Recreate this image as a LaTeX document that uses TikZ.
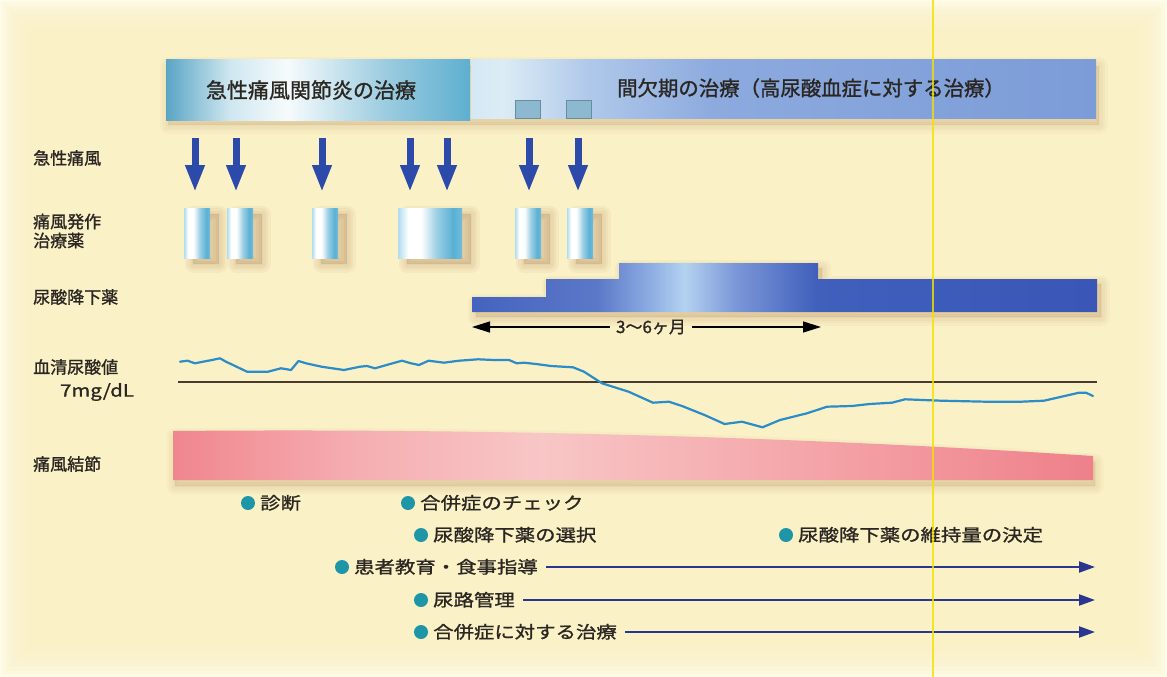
\documentclass[tikz,border=0pt]{standalone}
\usepackage{fontspec}
\newfontfamily\jp[FakeBold=1.2]{Noto Sans CJK JP}
\newfontfamily\jpw[FakeStretch=1.2,FakeBold=1.2]{Noto Sans CJK JP}
\usetikzlibrary{arrows.meta}
\definecolor{bgout}{HTML}{FEFBE9}
\definecolor{bgin}{HTML}{FBF1C4}
\definecolor{txt}{HTML}{2A2622}
\definecolor{shadowcol}{HTML}{A8784A}
\definecolor{arrb}{HTML}{2C4AAA}
\definecolor{arrd}{HTML}{2A3590}
\definecolor{teal1}{HTML}{1E96A8}
\definecolor{sqfill}{HTML}{8CB8D0}
\definecolor{sqdraw}{HTML}{6C8C9C}
\definecolor{ualine}{HTML}{2A8CC8}
\definecolor{thr}{HTML}{4A3A30}
\definecolor{yline}{HTML}{F5E000}
% acute bar
\definecolor{acA}{HTML}{5AA5C5}
\definecolor{acB}{HTML}{CFE7F0}
\definecolor{acC}{HTML}{F6FBFC}
\definecolor{acD}{HTML}{9CCCE0}
\definecolor{acE}{HTML}{5EAFD0}
% interval bar
\definecolor{inA}{HTML}{D4E8F4}
\definecolor{inB}{HTML}{DCECF6}
\definecolor{inC}{HTML}{AFC8EA}
\definecolor{inD}{HTML}{8CAADE}
\definecolor{inE}{HTML}{7C9CD8}
% capsule
\definecolor{cpA}{HTML}{B0DCEC}
\definecolor{cpB}{HTML}{FFFFFF}
\definecolor{cpC}{HTML}{9ED0E4}
\definecolor{cpD}{HTML}{5AB0D4}
\definecolor{cpE}{HTML}{70BCDC}
% uric drug
\definecolor{udA}{HTML}{4563BE}
\definecolor{udB}{HTML}{5B78C8}
\definecolor{udC}{HTML}{90B0E4}
\definecolor{udD}{HTML}{B4D2F0}
\definecolor{udE}{HTML}{7C98D8}
\definecolor{udF}{HTML}{4060BC}
\definecolor{udG}{HTML}{3A56B6}
% tophus
\definecolor{tpA}{HTML}{F0868E}
\definecolor{tpB}{HTML}{F5AEB2}
\definecolor{tpC}{HTML}{F8C6C6}
\definecolor{tpD}{HTML}{F4A4A8}
\definecolor{tpE}{HTML}{EE808A}
\pgfdeclarehorizontalshading{acshade}{100bp}{color(0bp)=(acA); color(25bp)=(acA); color(35.5bp)=(acB); color(45bp)=(acC); color(61bp)=(acD); color(75bp)=(acE); color(100bp)=(acE)}
\pgfdeclarehorizontalshading{inshade}{100bp}{color(0bp)=(inA); color(25bp)=(inA); color(27.5bp)=(inB); color(34.5bp)=(inC); color(44.5bp)=(inD); color(75bp)=(inE); color(100bp)=(inE)}
\pgfdeclarehorizontalshading{capshade}{100bp}{color(0bp)=(cpA); color(25bp)=(cpA); color(33bp)=(cpB); color(43bp)=(cpB); color(55bp)=(cpC); color(68bp)=(cpD); color(75bp)=(cpE); color(100bp)=(cpE)}
\pgfdeclarehorizontalshading{udshade}{100bp}{color(0bp)=(udA); color(25bp)=(udA); color(35bp)=(udB); color(39.5bp)=(udC); color(42bp)=(udD); color(46bp)=(udE); color(52.5bp)=(udF); color(75bp)=(udG); color(100bp)=(udG)}
\pgfdeclarehorizontalshading{tpshade}{100bp}{color(0bp)=(tpA); color(25bp)=(tpA); color(35bp)=(tpB); color(45bp)=(tpC); color(60bp)=(tpD); color(75bp)=(tpE); color(100bp)=(tpE)}
\newcommand{\blurshadow}[4]{%
  \foreach \w in {2,7,12,17}{%
    \path[fill=shadowcol, draw=shadowcol, line width=\w pt, opacity=#4, line join=round, shift={(#1,#2)}] #3;}}
\begin{document}
\begin{tikzpicture}[x=1pt,y=-1pt,
  lab/.style={anchor=west, inner sep=0pt, text=txt, font=\jp\fontsize{17}{20}\selectfont, align=left},
  btxt/.style={anchor=west, inner sep=0pt, text=txt, font=\jpw\fontsize{17}{20}\selectfont, text height=14pt, text depth=1.5pt},
  bul/.style={circle, fill=teal1, minimum size=14pt, inner sep=0pt},
  downarr/.style={draw=arrb, line width=7pt, -{Triangle[width=18pt,length=27pt]}},
  longarr/.style={draw=arrd, line width=2.2pt, -{Triangle[width=11pt,length=16pt]}, shorten <=8pt},
  capsule/.style={rectangle, inner sep=0pt, shading=capshade, minimum height=50pt},
  sq/.style={rectangle, draw=sqdraw, fill=sqfill, line width=0.8pt, minimum width=25pt, minimum height=18pt, inner sep=0pt},
  monarr/.style={draw=black, line width=1.4pt, -{Triangle[width=11pt,length=18pt]}, shorten <=6pt}
]
\useasboundingbox (0,0) rectangle (1167,677);
% background
\fill[bgout] (0,0) rectangle (1167,677);
\foreach \i in {2,6,...,30}{\fill[bgin,opacity=0.22] ({\i},{\i}) rectangle ({1167-\i},{677-\i});}

% top bars
\blurshadow{2}{6}{(166,60) rectangle (1097,119)}{0.045}
\node[rectangle, inner sep=0pt, minimum width=625pt, minimum height=59pt, shading=inshade] (ibar) at (783.5,89) {};
\node[rectangle, inner sep=0pt, minimum width=304pt, minimum height=60pt, shading=acshade] (abar) at (318,90) {};
\node[text=txt, font=\jp\fontsize{21}{24}\selectfont, inner sep=0pt] (abart) at (311,90) {急性痛風関節炎の治療};
\node[text=txt, font=\jp\fontsize{20.4}{24}\selectfont, inner sep=0pt] (ibart) at (811,88) {間欠期の治療（高尿酸血症に対する治療）};
\node[sq] (sq1) at (528,109) {};
\node[sq] (sq2) at (579,109) {};

% left labels
\node[lab] (l1) at (33,158) {急性痛風};
\node[lab] (l2) at (33,231) {痛風発作\\[-1pt]治療薬};
\node[lab] (l3) at (33,297) {尿酸降下薬};
\node[lab] (l4) at (33,367) {血清尿酸値};
\node[text=txt, font=\jpw\fontsize{17}{20}\selectfont, inner sep=0pt] (l5) at (97,392) {7mg/dL};
\node[lab] (l6) at (33,464) {痛風結節};

% capsule shadows
\foreach \a/\b in {184/210,227/253,312/338,398/462,515/541,567/593}{
  \blurshadow{9}{6}{(\a,208) rectangle (\b,258)}{0.065}
}
% capsules
\node[capsule, minimum width=26pt] (c1) at (197,233) {};
\node[capsule, minimum width=26pt] (c2) at (240,233) {};
\node[capsule, minimum width=26pt] (c3) at (325,233) {};
\node[capsule, minimum width=64pt] (c4) at (430,233) {};
\node[capsule, minimum width=26pt] (c5) at (528,233) {};
\node[capsule, minimum width=26pt] (c6) at (580,233) {};

% down arrows
\foreach \n/\x in {1/195,2/236,3/322,4/410,5/447,6/529,7/578}{
  \coordinate (as\n) at (\x,138);
  \coordinate (ae\n) at (\x,192);
  \draw[downarr] (as\n) -- (ae\n);
}

% uric acid lowering drug steps
\blurshadow{4}{5}{(472,312) -- (472,297) -- (546,297) -- (546,279) -- (619,279) -- (619,263) -- (818,263) -- (818,279) -- (1097,279) -- (1097,312) -- cycle}{0.05}
\path[shading=udshade] (472,312) -- (472,297) -- (546,297) -- (546,279) -- (619,279) -- (619,263) -- (818,263) -- (818,279) -- (1097,279) -- (1097,312) -- cycle;

% 3-6 months
\node[font=\jp\fontsize{17}{20}\selectfont, text=txt, inner sep=0pt] (mlab) at (651,327) {3〜6ヶ月};
\coordinate (mL) at (472,327);
\coordinate (mR) at (821,327);
\draw[monarr] (mlab.west) -- (mL);
\draw[monarr] (mlab.east) -- (mR);

% threshold line
\coordinate (thL) at (178,382);
\coordinate (thR) at (1097,382);
\draw[thr, line width=1.3pt] (thL) -- (thR);

% serum uric acid curve
\draw[ualine, line width=2.2pt, line join=round, line cap=round]
(180,361.7) -- (187.5,360.7) -- (195,363.3) -- (203,361.7) -- (212,360) -- (220,358.3) -- (226,361.7) -- (233,365) -- (247,371.7) -- (268,371.7) -- (281,368.3) -- (291,370) -- (298.5,361) -- (306,363.3) -- (321.5,366.7) -- (344,370) -- (360,366.7) -- (367,366) -- (375,368.3) -- (386.5,365) -- (402,360.7) -- (411,363.3) -- (419,365) -- (428.6,360.7) -- (444,362.7) -- (459,360.7) -- (478,359.3) -- (494,360) -- (509,360) -- (516.7,363.3) -- (524,362.7) -- (536,364) -- (551,366) -- (573,367.3) -- (584,371.7) -- (602,383.3) -- (628.6,391.7) -- (653,402.7) -- (669,401.7) -- (682,406) -- (704.5,415) -- (724.5,424) -- (742,421.7) -- (762.5,427.3) -- (780,420) -- (807,413.3) -- (827,406.7) -- (852,406) -- (869.6,404) -- (892,402.7) -- (905,399.3) -- (941,400.7) -- (985.7,401.7) -- (1021,401.7) -- (1044,400.7) -- (1061.6,396.7) -- (1079,392.7) -- (1086,392.7) -- (1093,396);

% tophus band
\blurshadow{2}{6}{(173,480) -- (173,431) .. controls (500,428) and (820,438) .. (1093,456) -- (1093,480) -- cycle}{0.045}
\path[shading=tpshade] (173,480) -- (173,431) .. controls (500,428) and (820,438) .. (1093,456) -- (1093,480) -- cycle;

% bullets
\node[bul] (b1) at (248,503) {};
\node[btxt] (t1) at (260,503) {診断};
\node[bul] (b2) at (408,503) {};
\node[btxt] (t2) at (420,503) {合併症のチェック};
\node[bul] (b3) at (421,535) {};
\node[btxt] (t3) at (433,535) {尿酸降下薬の選択};
\node[bul] (b4) at (786,535) {};
\node[btxt] (t4) at (798,535) {尿酸降下薬の維持量の決定};
\node[bul] (b5) at (342,567) {};
\node[btxt] (t5) at (354,567) {患者教育・食事指導};
\node[bul] (b6) at (421,600) {};
\node[btxt] (t6) at (433,600) {尿路管理};
\node[bul] (b7) at (421,632) {};
\node[btxt] (t7) at (433,632) {合併症に対する治療};
\coordinate (e5) at (1095,567);
\coordinate (e6) at (1095,600);
\coordinate (e7) at (1095,632);
\draw[longarr] (t5.east) -- (e5);
\draw[longarr] (t6.east) -- (e6);
\draw[longarr] (t7.east) -- (e7);

% scan line on top
\coordinate (yT) at (933,0);
\coordinate (yB) at (933,677);
\draw[yline, line width=1.1pt, opacity=0.8] (yT) -- (yB);
\end{tikzpicture}
\end{document}
